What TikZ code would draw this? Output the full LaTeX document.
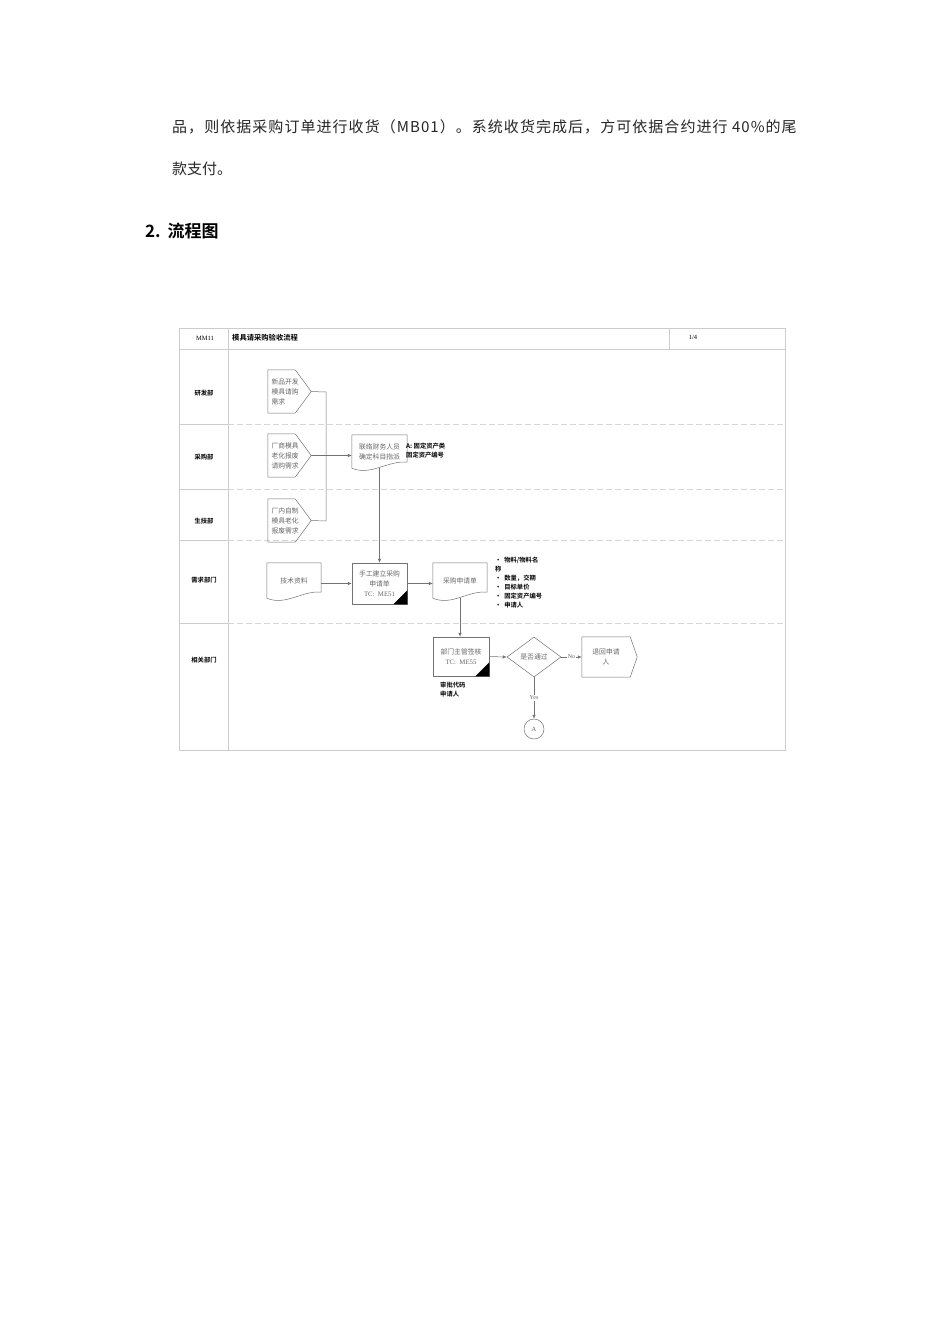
\documentclass[tikz,border=0pt]{standalone}
\usepackage{fontspec}
\setmainfont{Liberation Serif}
\newfontfamily\cjk[BoldFont={Noto Sans CJK SC Bold}]{Noto Sans CJK SC}
\usetikzlibrary{arrows.meta,calc,shapes.geometric}
\newcommand{\docshape}[1]{\draw[shp] (#1.south west) .. controls ($(#1.south west)!0.35!(#1.south east)+(0,8)$) and ($(#1.south west)!0.65!(#1.south east)+(0,-8)$) .. ($(#1.south east)+(0,-6)$) -- (#1.north east) -- (#1.north west) -- cycle;}
\newcommand{\offpage}[2]{\draw[shp] (#1.north west) -- ($(#1.north east)+(-#2,0)$) -- (#1.east) -- ($(#1.south east)+(-#2,0)$) -- (#1.south west) -- cycle;}
\newcommand{\cornermark}[1]{\fill (#1.south east) -- ++(-14,0) -- ($(#1.south east)+(0,-14)$) -- cycle;}
\tikzset{
  frame/.style={draw=black!20, line width=0.6pt},
  sep/.style={draw=black!16, dash pattern=on 6pt off 3pt, line width=0.5pt},
  shp/.style={draw=black!55, line width=0.5pt},
  conn/.style={draw=black!55, line width=0.5pt},
  arr/.style={conn, -{Latex[length=4pt,width=3.4pt]}},
  stxt/.style={font=\cjk\fontsize{6.8}{10}\selectfont, text=black!60, inner sep=0, align=center},
  opg/.style={stxt, align=left, text width=36pt, inner xsep=3.5pt, minimum height=43pt},
  lanelbl/.style={font=\cjk\bfseries\fontsize{6.3}{8}\selectfont, inner sep=0},
  note/.style={font=\cjk\bfseries\fontsize{6.3}{9}\selectfont, align=left, inner sep=0},
  small/.style={font=\fontsize{6}{7}\selectfont, text=black!60, inner sep=1pt, fill=white},
}
\begin{document}
\begin{tikzpicture}[x=1pt,y=-1pt]
\useasboundingbox[fill=white] (0,0) rectangle (950,1344);
% body text
\node[anchor=west, inner sep=0, font=\cjk\fontsize{15}{20}\selectfont\addfontfeature{LetterSpace=7}, text=black!85] (para1) at (172,127) {品，则依据采购订单进行收货（MB01）。系统收货完成后，方可依据合约进行 40\%的尾};
\node[anchor=west, inner sep=0, font=\cjk\fontsize{15}{20}\selectfont, text=black!85] (para2) at (172,169) {款支付。};
\node[anchor=west, inner sep=0, font=\cjk\bfseries\fontsize{17}{20}\selectfont] (head) at (145,231) {2.\hspace{7pt}流程图};
% frame
\draw[frame] (179,328) rectangle (785,750);
\draw[frame] (179,349) -- (785,349);
\draw[frame] (228,328) -- (228,750);
\draw[frame] (669,328) -- (669,349);
\foreach \yy in {424,489,540,623}{
  \draw[frame] (179,\yy) -- (228,\yy);
  \draw[sep] (228,\yy) -- (785,\yy);
}
\node[font=\fontsize{6.5}{8}\selectfont, inner sep=0] (code) at (205,338) {MM11};
\node[anchor=west, font=\cjk\bfseries\fontsize{7.3}{8}\selectfont, inner sep=0] (title) at (232,338) {模具请采购验收流程};
\node[font=\fontsize{6.5}{8}\selectfont, inner sep=0] (page) at (693,337) {1/4};
% lane labels
\node[lanelbl] (l1) at (204,393) {研发部};
\node[lanelbl] (l2) at (204,457) {采购部};
\node[lanelbl] (l3) at (204,521) {生技部};
\node[lanelbl] (l4) at (204,580) {需求部门};
\node[lanelbl] (l5) at (204,660) {相关部门};
% off-page inputs
\node[opg] (p1) at (289.5,391.5) {新品开发\\模具请购\\需求};
\node[opg] (p2) at (289.5,455.5) {厂商模具\\老化报废\\请购需求};
\node[opg] (p3) at (289.5,520.5) {厂内自制\\模具老化\\报废需求};
\offpage{p1}{16}
\offpage{p2}{16}
\offpage{p3}{16}
% documents and processes
\node[stxt, minimum width=55pt, minimum height=33pt] (d1) at (379.5,451.5) {联络财务人员\\确定科目指派};
\docshape{d1}
\node[note, anchor=west] (d1note) at (406,451) {A: 固定资产类\\固定资产编号};
\node[stxt, minimum width=54pt, minimum height=35pt] (tech) at (294,580.5) {技术资料};
\docshape{tech}
\node[stxt, shp, minimum width=55pt, minimum height=41pt] (me51) at (379.5,583.5) {手工建立采购\\申请单\\{\rmfamily TC:\ \ ME51}};
\cornermark{me51}
\node[stxt, minimum width=54pt, minimum height=35pt] (pr) at (460,580.5) {采购申请单};
\docshape{pr}
\node[note, anchor=north west] (prnote) at (495,557) {•\ \ 物料/物料名\\称\\•\ \ 数量，交期\\•\ \ 目标单价\\•\ \ 固定资产编号\\•\ \ 申请人};
\node[stxt, shp, minimum width=56pt, minimum height=39pt] (me55) at (461,656.5) {部门主管签核\\{\rmfamily TC:\ \ ME55}};
\cornermark{me55}
\node[note, anchor=north west] (me55note) at (440,682) {审批代码\\申请人};
\node[stxt, shp, diamond, minimum width=54pt, minimum height=40pt] (dia) at (534,657) {是否通过};
\node[stxt, align=center, minimum width=55pt, minimum height=40pt] (back) at (609.5,657) {\hspace{-7pt}退回申请\\\hspace{-7pt}人};
\offpage{back}{7}
\node[stxt, shp, circle, minimum size=20pt, font=\fontsize{6.5}{8}\selectfont] (endA) at (534,729) {A};
% connectors
\coordinate (jt) at (326,392);
\coordinate (jb) at (326,521);
\draw[conn] (p1.east) -- (jt) -- (jb) -- (p3.east);
\draw[arr] (p2.east) -- (p2.east -| d1.west);
\draw[arr] (d1.south) -- (me51.north);
\draw[arr] (me51.west -| tech.east) -- (me51.west);
\draw[arr] (me51.east) -- (me51.east -| pr.west);
\draw[arr] (pr.south) -- (pr.south |- me55.north);
\draw[arr] (me55.east) -- (dia.west);
\draw[arr] (dia.east) -- node[small] {No} (back.west);
\draw[arr] (dia.south) -- node[small] {Yes} (endA.north);
\end{tikzpicture}
\end{document}
